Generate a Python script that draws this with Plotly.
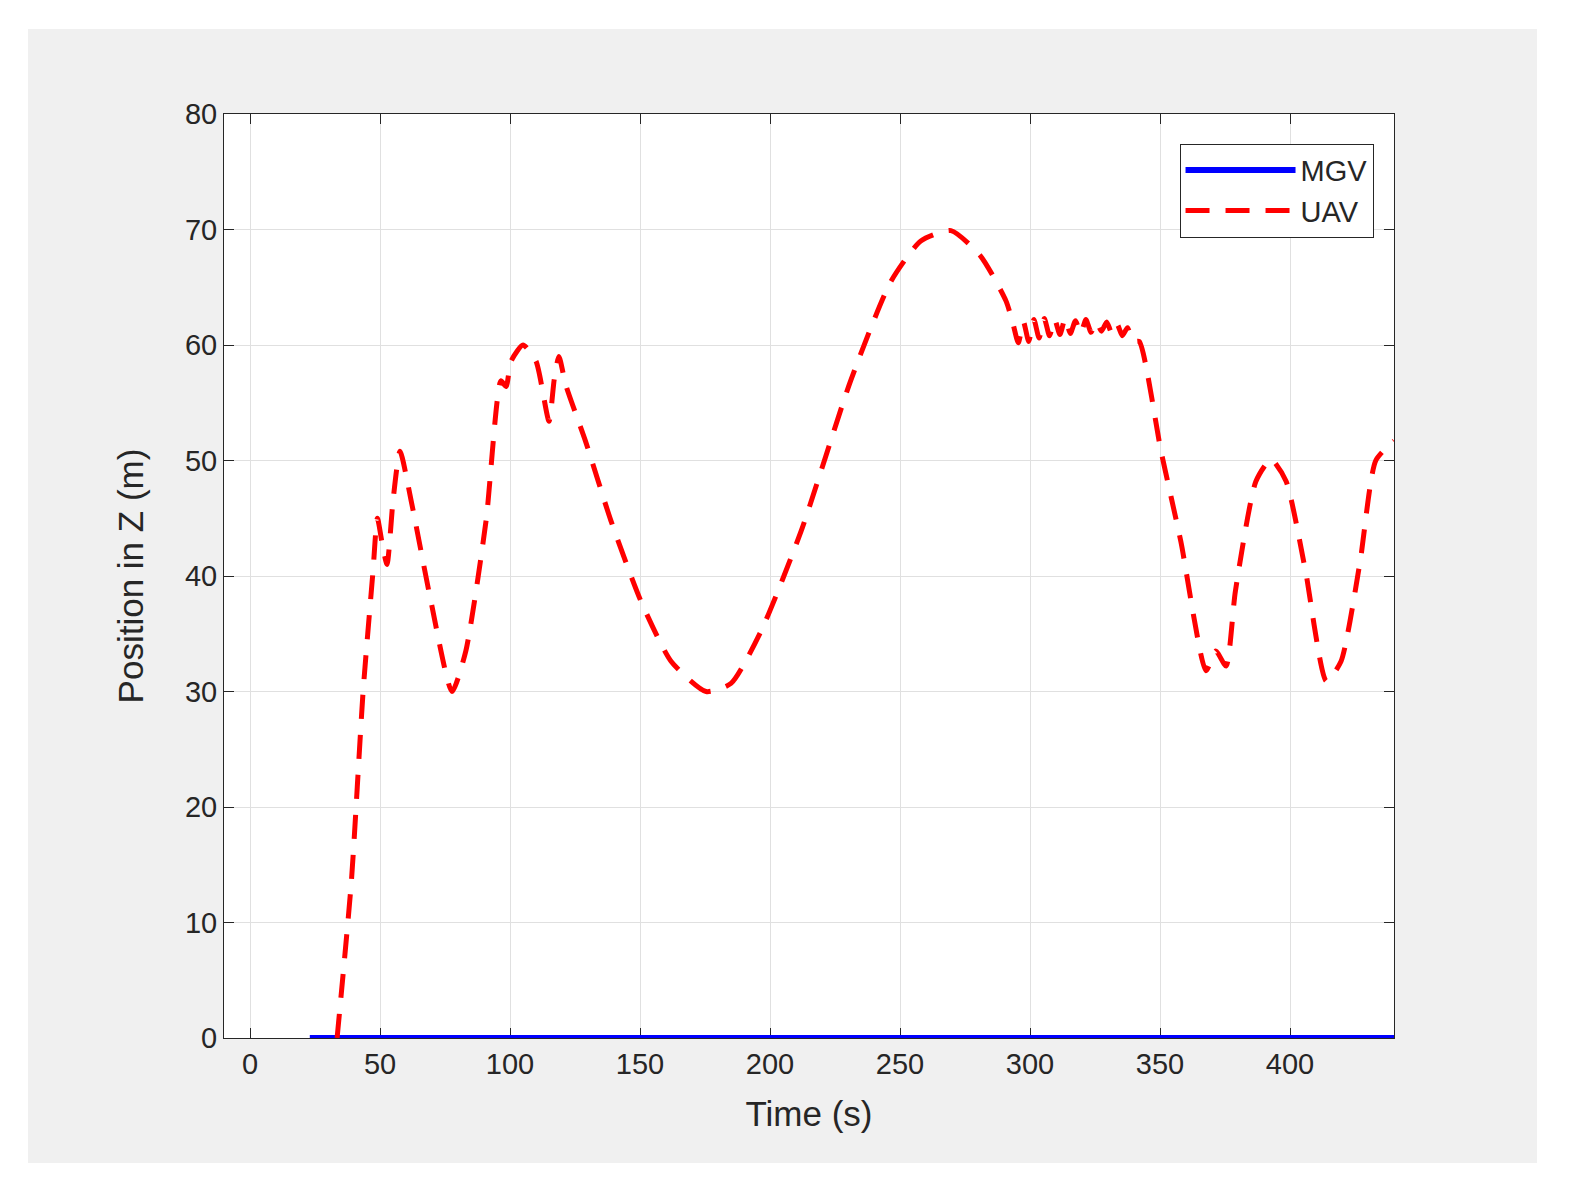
import plotly.graph_objects as go

mgv_t = [23, 440]
mgv_z = [0, 0]

uav_t = [33.5, 39, 43.5, 47.3, 49, 51, 52.7, 55, 57.7, 62, 69.6, 77.7, 83, 90.8, 96.5, 98.5, 100.4, 105, 110, 115, 117, 118.8, 121.5, 129, 138.8, 150.4, 162, 175.4, 185, 196.5, 212, 231, 246.5, 258, 269.6, 281, 290.8,
         293.5, 295.5, 297.5, 299.5, 301.5, 303.5, 305.5, 307.5, 309.5, 311.5, 313.5, 315.5, 317.5, 319.5, 321.5, 323.5, 325.5, 327.5, 329.5, 331.5, 333.5, 335.5, 337.5, 339.5,
         342, 350.4, 358, 367.7, 371.5, 375.4, 379, 386.9, 392.7, 398.5, 406, 414, 419.6, 427, 433, 440]
uav_z = [0, 13.6, 30, 40.4, 45, 42.6, 41, 46.5, 50.8, 46.5, 37.8, 30, 33.5, 44.8, 56.9, 56.4, 58.6, 60, 58.6, 53.4, 57, 59, 56.5, 51.7, 44.8, 37.8, 32.6, 30, 30.7, 35.2, 43.9, 56.9, 65.5, 69, 69.9, 67.7, 63.8,
         61.8, 60.2, 62.0, 60.3, 62.2, 60.6, 62.3, 60.8, 62.2, 60.9, 62.3, 61.0, 62.1, 61.0, 62.2, 61.1, 62.0, 61.2, 62.0, 61.0, 61.8, 60.8, 61.5, 60.3,
         60.3, 50.8, 43, 31.8, 33.5, 32.2, 38.7, 48.2, 50.1, 48.2, 40.4, 30.9, 32.6, 41.3, 50, 51.7]

x_ticks = [0, 50, 100, 150, 200, 250, 300, 350, 400]
y_ticks = [0, 10, 20, 30, 40, 50, 60, 70, 80]

fig = go.Figure()
fig.add_trace(go.Scatter(x=mgv_t, y=mgv_z, mode="lines", name="MGV",
                         line=dict(color="#0000ff", width=6)))
fig.add_trace(go.Scatter(x=uav_t, y=uav_z, mode="lines", name="UAV",
                         line=dict(color="#ff0000", width=5, dash="24px,16px", shape="spline", smoothing=0.6)))

axis_common = dict(showgrid=True, gridcolor="#e0e0e0", gridwidth=1, ticks="inside", ticklen=10,
                   tickcolor="#262626", showline=True, linecolor="#262626", linewidth=1, mirror="ticks",
                   zeroline=False, tickfont=dict(size=29, color="#262626"), layer="below traces")
fig.update_xaxes(range=[-10, 440], tickvals=x_ticks, title=dict(text="Time (s)", font=dict(size=35, color="#262626"), standoff=22), **axis_common)
fig.update_yaxes(range=[0, 80], tickvals=y_ticks, title=dict(text="Position in Z (m)", font=dict(size=35, color="#262626"), standoff=30), **axis_common)

fig.add_shape(type="rect", xref="paper", yref="paper", x0=-0.1675, x1=1.1222, y0=-0.1353, y1=1.092,
              fillcolor="#f0f0f0", line=dict(width=0), layer="below")
fig.add_shape(type="rect", xref="paper", yref="paper", x0=0, x1=1, y0=0, y1=1,
              fillcolor="white", line=dict(width=0), layer="below")

fig.update_layout(width=1571, height=1192, margin=dict(l=216, r=185, t=106, b=162),
                  paper_bgcolor="white", plot_bgcolor="white",
                  font=dict(family="Liberation Sans, Arial, sans-serif", color="#262626"),
                  legend=dict(x=0.9825, y=0.968, xanchor="right", yanchor="top", bgcolor="white",
                              bordercolor="#262626", borderwidth=1, font=dict(size=29, color="#262626"),
                              itemwidth=110, tracegroupgap=2),
                  showlegend=True)

fig.write_html("out.html")
